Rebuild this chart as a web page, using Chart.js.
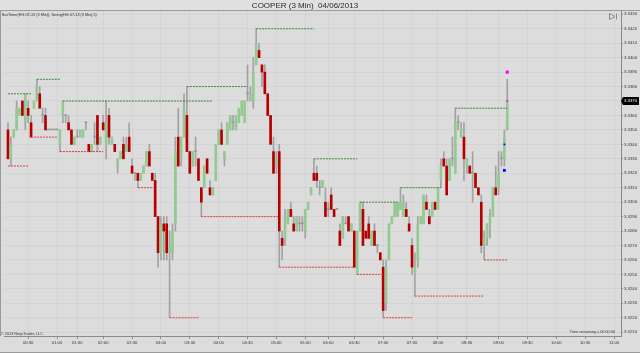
<!DOCTYPE html>
<html><head><meta charset="utf-8">
<script src="https://cdn.jsdelivr.net/npm/chart.js@4.4.0/dist/chart.umd.min.js"></script>
<style>html,body{margin:0;padding:0;background:#dcdcdc;overflow:hidden}canvas{display:block}</style>
</head><body>
<canvas id="c" width="640" height="353"></canvas>
<script>
// ---- data (HG 07-13, 3 min bars) ----
const opens = [3.3350,3.3330,3.3345,3.3350,3.3360,3.3370,3.3355,3.3365,3.3355,3.3365,3.3370,3.3375,3.3360,3.3360,3.3350,3.3350,3.3350,3.3350,3.3340,3.3360,
3.3360,3.3355,3.3350,3.3340,3.3345,3.3345,3.3345,3.3355,3.3340,3.3335,3.3345,3.3360,3.3340,3.3355,3.3340,3.3360,3.3340,3.3340,3.3325,3.3330,
3.3340,3.3335,3.3345,3.3325,3.3320,3.3320,3.3315,3.3320,3.3325,3.3335,3.3320,3.3315,3.3290,3.3265,3.3285,3.3285,3.3265,3.3265,3.3285,3.3345,
3.3330,3.3345,3.3360,3.3335,3.3325,3.3335,3.3330,3.3310,3.3310,3.3330,3.3310,3.3305,3.3315,3.3340,3.3350,3.3330,3.3340,3.3350,3.3355,3.3350,
3.3355,3.3360,3.3355,3.3375,3.3370,3.3370,3.3395,3.3405,3.3395,3.3390,3.3375,3.3360,3.3335,3.3325,3.3335,3.3275,3.3275,3.3285,3.3295,3.3285,
3.3280,3.3285,3.3285,3.3280,3.3295,3.3305,3.3320,3.3320,3.3310,3.3310,3.3300,3.3295,3.3305,3.3295,3.3295,3.3280,3.3275,3.3285,3.3290,3.3280,
3.3280,3.3250,3.3280,3.3295,3.3280,3.3285,3.3270,3.3280,3.3270,3.3265,3.3255,3.3230,3.3260,3.3285,3.3290,3.3290,3.3295,3.3290,3.3295,3.3285,
3.3270,3.3250,3.3260,3.3285,3.3285,3.3300,3.3290,3.3290,3.3300,3.3295,3.3315,3.3330,3.3325,3.3315,3.3330,3.3320,3.3355,3.3345,3.3345,3.3325,
3.3325,3.3320,3.3320,3.3310,3.3300,3.3270,3.3275,3.3285,3.3290,3.3310,3.3310,3.3330,3.3330,3.3350];
const highs = [3.3355,3.3345,3.3350,3.3370,3.3365,3.3370,3.3375,3.3370,3.3360,3.3370,3.3385,3.3380,3.3365,3.3365,3.3350,3.3350,3.3350,3.3350,3.3350,3.3370,
3.3360,3.3360,3.3350,3.3345,3.3350,3.3350,3.3350,3.3355,3.3340,3.3340,3.3355,3.3360,3.3345,3.3360,3.3370,3.3365,3.3345,3.3340,3.3330,3.3335,
3.3345,3.3345,3.3355,3.3330,3.3320,3.3320,3.3320,3.3325,3.3335,3.3340,3.3320,3.3320,3.3290,3.3290,3.3290,3.3290,3.3280,3.3285,3.3345,3.3365,
3.3345,3.3375,3.3380,3.3335,3.3335,3.3345,3.3330,3.3310,3.3325,3.3330,3.3315,3.3310,3.3340,3.3350,3.3355,3.3335,3.3355,3.3360,3.3360,3.3360,
3.3365,3.3370,3.3370,3.3395,3.3380,3.3400,3.3420,3.3410,3.3395,3.3395,3.3375,3.3360,3.3345,3.3335,3.3340,3.3280,3.3295,3.3295,3.3300,3.3290,
3.3290,3.3290,3.3290,3.3295,3.3300,3.3310,3.3330,3.3325,3.3315,3.3315,3.3310,3.3300,3.3310,3.3295,3.3295,3.3285,3.3290,3.3290,3.3290,3.3285,
3.3280,3.3280,3.3300,3.3300,3.3280,3.3290,3.3280,3.3285,3.3270,3.3265,3.3260,3.3260,3.3285,3.3290,3.3300,3.3300,3.3310,3.3305,3.3300,3.3290,
3.3275,3.3265,3.3290,3.3290,3.3305,3.3305,3.3295,3.3300,3.3300,3.3310,3.3330,3.3335,3.3330,3.3330,3.3345,3.3365,3.3360,3.3355,3.3355,3.3330,
3.3325,3.3335,3.3320,3.3310,3.3305,3.3280,3.3285,3.3295,3.3310,3.3325,3.3335,3.3335,3.3350,3.3385];
const lows = [3.3330,3.3325,3.3345,3.3350,3.3360,3.3360,3.3350,3.3355,3.3345,3.3365,3.3370,3.3365,3.3355,3.3350,3.3350,3.3350,3.3350,3.3350,3.3335,3.3355,
3.3355,3.3350,3.3340,3.3340,3.3345,3.3345,3.3345,3.3350,3.3335,3.3335,3.3340,3.3335,3.3340,3.3350,3.3330,3.3340,3.3340,3.3335,3.3320,3.3330,
3.3330,3.3335,3.3335,3.3320,3.3315,3.3310,3.3315,3.3320,3.3325,3.3325,3.3315,3.3290,3.3255,3.3260,3.3260,3.3260,3.3220,3.3260,3.3280,3.3325,
3.3325,3.3345,3.3335,3.3320,3.3325,3.3325,3.3315,3.3290,3.3310,3.3320,3.3305,3.3305,3.3315,3.3340,3.3340,3.3325,3.3340,3.3350,3.3350,3.3350,
3.3355,3.3360,3.3355,3.3370,3.3370,3.3365,3.3395,3.3400,3.3380,3.3375,3.3360,3.3340,3.3320,3.3320,3.3255,3.3260,3.3270,3.3285,3.3290,3.3280,
3.3280,3.3280,3.3280,3.3275,3.3295,3.3305,3.3315,3.3310,3.3305,3.3310,3.3290,3.3290,3.3295,3.3290,3.3295,3.3270,3.3275,3.3285,3.3280,3.3280,
3.3255,3.3250,3.3280,3.3270,3.3275,3.3275,3.3270,3.3270,3.3265,3.3260,3.3220,3.3225,3.3260,3.3285,3.3290,3.3290,3.3295,3.3290,3.3290,3.3280,
3.3250,3.3235,3.3255,3.3285,3.3285,3.3295,3.3285,3.3290,3.3295,3.3295,3.3310,3.3325,3.3305,3.3315,3.3325,3.3320,3.3350,3.3345,3.3315,3.3320,
3.3320,3.3300,3.3310,3.3305,3.3265,3.3260,3.3270,3.3275,3.3290,3.3305,3.3305,3.3325,3.3325,3.3350];
const closes = [3.3330,3.3340,3.3350,3.3365,3.3365,3.3360,3.3375,3.3360,3.3345,3.3370,3.3380,3.3365,3.3360,3.3350,3.3350,3.3350,3.3350,3.3350,3.3350,3.3370,
3.3360,3.3350,3.3340,3.3345,3.3345,3.3350,3.3350,3.3355,3.3335,3.3340,3.3345,3.3340,3.3345,3.3350,3.3355,3.3345,3.3345,3.3335,3.3330,3.3335,
3.3330,3.3340,3.3335,3.3320,3.3320,3.3315,3.3320,3.3325,3.3335,3.3325,3.3315,3.3290,3.3265,3.3285,3.3280,3.3265,3.3270,3.3280,3.3335,3.3325,
3.3345,3.3365,3.3335,3.3320,3.3335,3.3335,3.3315,3.3300,3.3325,3.3320,3.3305,3.3310,3.3340,3.3350,3.3340,3.3335,3.3355,3.3360,3.3355,3.3360,
3.3365,3.3370,3.3370,3.3375,3.3375,3.3390,3.3410,3.3400,3.3390,3.3375,3.3360,3.3340,3.3320,3.3330,3.3280,3.3270,3.3290,3.3295,3.3290,3.3280,
3.3290,3.3285,3.3285,3.3295,3.3300,3.3310,3.3315,3.3315,3.3310,3.3315,3.3290,3.3295,3.3295,3.3290,3.3295,3.3270,3.3290,3.3285,3.3280,3.3285,
3.3255,3.3280,3.3300,3.3270,3.3275,3.3275,3.3280,3.3270,3.3270,3.3260,3.3225,3.3255,3.3285,3.3290,3.3300,3.3300,3.3300,3.3300,3.3290,3.3280,
3.3255,3.3255,3.3285,3.3290,3.3305,3.3295,3.3285,3.3300,3.3295,3.3310,3.3325,3.3325,3.3305,3.3330,3.3330,3.3355,3.3355,3.3350,3.3330,3.3330,
3.3320,3.3320,3.3310,3.3305,3.3270,3.3275,3.3285,3.3290,3.3310,3.3305,3.3320,3.3330,3.3345,3.3370];

const timeLabels   = ['00:30','01:00','01:30','02:00','02:30','03:00','03:30','04:00','04:30','05:00','05:30','06:00','06:30','07:00','07:30','08:00','08:30','09:00','09:30','10:00','10:30','11:00'];
const timeTickBars = [7,17,24,33,43,53,63,73,83,93,103,111,120,130,140,149,159,170,180,190,200,210];
const priceTicks = [3.3210,3.3220,3.3230,3.3240,3.3250,3.3260,3.3270,3.3280,3.3290,3.3300,3.3310,3.3320,3.3330,3.3340,3.3350,3.3360,3.3370,3.3380,3.3390,3.3400,3.3410,3.3420,3.3430];

// Swing(5) levels
const swingHighPrice = [3.3375,3.3385,3.3370,3.3380,3.3420,3.3330,3.3300,3.3310,3.3365];
const swingHighFrom  = [0,10,19,62,86,106,122,136,155];
const swingHighTo    = [8,18,71,83,106,121,135,150,173];
const swingLowPrice  = [3.3325,3.3345,3.3335,3.3310,3.3220,3.3290,3.3255,3.3250,3.3220,3.3235,3.3260];
const swingLowFrom   = [0,8,18,45,56,67,94,121,130,141,165];
const swingLowTo     = [7,17,33,51,66,94,120,130,140,165,173];

// BarTimer / price markers
const markerBar   = [173,173,172,172];
const markerPrice = [3.3390,3.3370,3.3340,3.3322];
const markerColor = ['#ff00ff','#ff00ff','#0000ff','#0000ff'];
const markerSize  = [2.2,1.2,1.2,2];

// ---- build ----
const UP='#94c994', DOWN='#b50000', FLAT='#9a9a9a';
const bodyColors = opens.map((o,i)=> closes[i]>o?UP:(closes[i]<o?DOWN:FLAT));
function segs(p,f,t){const d=[];p.forEach((v,k)=>{d.push({x:f[k],y:v},{x:t[k],y:v},{x:t[k],y:null});});return d;}

const PX0=5, BARW=2.9, LEFT=1, RIGHT=621;
const xMin = -(PX0-LEFT)/BARW, xMax = xMin + (RIGHT-LEFT)/BARW;
const yTopPx=11, yBotPx=336, y3430=14.3, pxPerUnit=14450;
const yMax = 3.3430 + (y3430-yTopPx)/pxPerUnit;
const yMin = yMax - (yBotPx-yTopPx)/pxPerUnit;
const FONT='"Liberation Sans", Arial, sans-serif';

const deco = {
  id:'deco',
  beforeDraw(ch){const c=ch.ctx;c.save();c.fillStyle='#dcdcdc';c.fillRect(0,0,640,353);
    c.fillStyle='#e0e0e0';c.fillRect(0,0,640,10);c.restore();},
  afterDraw(ch){
    const c=ch.ctx, a=ch.chartArea, ys=ch.scales.y;
    c.save();
    c.strokeStyle='#9a9a9a';c.lineWidth=1;
    c.beginPath();c.moveTo(0,10.5);c.lineTo(640,10.5);c.stroke();
    c.beginPath();c.moveTo(0.5,10.5);c.lineTo(0.5,a.bottom);c.stroke();
    c.beginPath();c.moveTo(0,352.5);c.lineTo(640,352.5);c.stroke();
    c.fillStyle='#2a2a2a';c.font='8px '+FONT;c.textAlign='center';c.textBaseline='middle';
    c.fillText('COOPER (3 Min)  04/06/2013',305,5.5);
    c.font='3.8px '+FONT;c.textAlign='left';c.fillStyle='#333';
    c.fillText('BarTimer(HG 07-13 (3 Min)), Swing(HG 07-13 (3 Min),5)',2,14.5);
    c.fillText('\u00a9 2013 NinjaTrader, LLC',1,334);
    c.textAlign='right';
    c.fillText('Time remaining = 00:00:00',615,332);
    // last price box
    const last=closes[closes.length-1], py=ys.getPixelForValue(last);
    c.fillStyle='#000';c.beginPath();c.moveTo(621,py);c.lineTo(623,py-4);c.lineTo(639,py-4);c.lineTo(639,py+4);c.lineTo(623,py+4);c.closePath();c.fill();
    c.fillStyle='#fff';c.textAlign='left';c.font='4.3px '+FONT;c.fillText(last.toFixed(4),624,py+0.3);
    // scroll icon
    c.strokeStyle='#8a8a8a';c.beginPath();c.moveTo(609.5,13.5);c.lineTo(615,16.5);c.lineTo(609.5,19.5);c.closePath();c.stroke();
    c.beginPath();c.moveTo(616.5,13.5);c.lineTo(616.5,19.5);c.stroke();
    c.restore();
  }
};

new Chart(document.getElementById('c'),{
  type:'bar',
  data:{datasets:[
    {type:'line',data:segs(swingHighPrice,swingHighFrom,swingHighTo),borderColor:'#3b8a3b',borderWidth:1,borderDash:[2,1],pointRadius:0,spanGaps:false,order:1},
    {type:'line',data:segs(swingLowPrice,swingLowFrom,swingLowTo),borderColor:'#e03c3c',borderWidth:1,borderDash:[2,1],pointRadius:0,spanGaps:false,order:1},
    {type:'line',showLine:false,data:markerBar.map((b,k)=>({x:b,y:markerPrice[k]})),pointStyle:'rect',pointRadius:markerSize,pointBackgroundColor:markerColor,pointBorderWidth:0,order:0},
    {label:'body',data:opens.map((o,i)=>({x:i,y:[o,closes[i]]})),backgroundColor:bodyColors,maxBarThickness:2,barPercentage:1,categoryPercentage:1,minBarLength:1,grouped:false,order:2},
    {label:'wick',data:opens.map((o,i)=>({x:i,y:[lows[i],highs[i]]})),backgroundColor:'#a2a2a2',maxBarThickness:1,barPercentage:1,categoryPercentage:1,grouped:false,order:3}
  ]},
  options:{
    responsive:false,animation:false,events:[],
    layout:{padding:{top:yTopPx,left:LEFT,right:0,bottom:0}},
    plugins:{legend:{display:false},tooltip:{enabled:false},title:{display:false}},
    scales:{
      x:{type:'linear',min:xMin,max:xMax,offset:false,
        afterBuildTicks:s=>{s.ticks=timeTickBars.map(v=>({value:v}));},
        afterFit:s=>{s.height=353-yBotPx;},
        ticks:{autoSkip:false,maxRotation:0,padding:1,color:'#333',font:{size:4.2,family:FONT},
          callback:v=>timeLabels[timeTickBars.indexOf(v)]},
        grid:{offset:false,color:'rgba(0,0,0,0.035)',tickLength:3,tickColor:'#8a8a8a'},
        border:{color:'#8a8a8a'}},
      y:{type:'linear',position:'right',min:yMin,max:yMax,
        afterBuildTicks:s=>{s.ticks=priceTicks.map(v=>({value:v}));},
        afterFit:s=>{s.width=640-RIGHT;},
        ticks:{autoSkip:false,padding:1,color:'#333',font:{size:4.3,family:FONT},callback:v=>v.toFixed(4)},
        grid:{color:'rgba(0,0,0,0.035)',tickLength:2,tickColor:'#8a8a8a'},
        border:{color:'#8a8a8a'}}
    }
  },
  plugins:[deco]
});
</script>
</body></html>
